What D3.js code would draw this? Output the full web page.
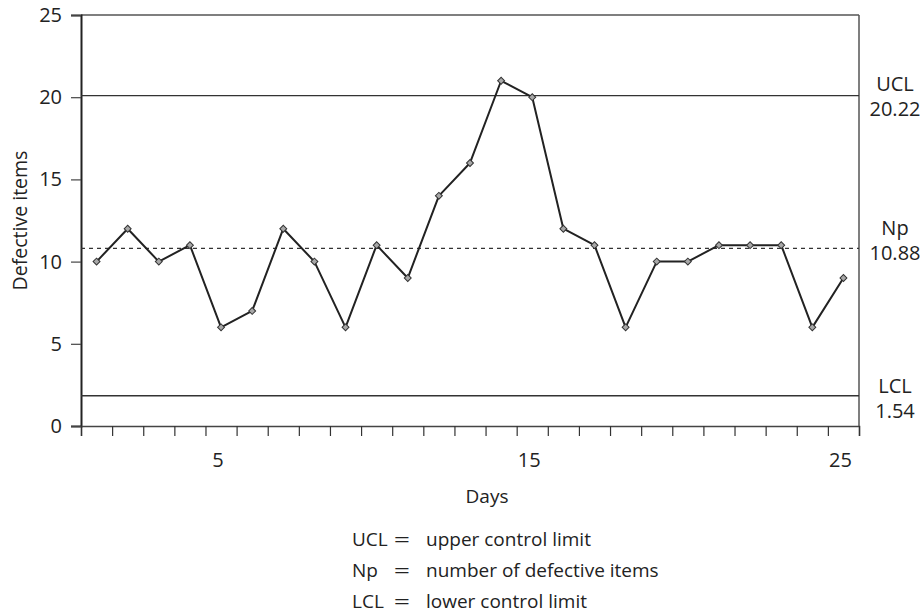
<!DOCTYPE html>
<html>
<head>
<meta charset="utf-8">
<script src="https://cdn.jsdelivr.net/npm/d3@7"></script>
<style>
  html, body { margin: 0; padding: 0; background: #fff; }
  svg { display: block; font-family: "Open Sans", "Noto Sans", sans-serif; }
</style>
</head>
<body>
<svg id="chart" width="924" height="614"></svg>
<script>
// ---- data ----
const days = [1,2,3,4,5,6,7,8,9,10,11,12,13,14,15,16,17,18,19,20,21,22,23,24,25];
const defectives = [10,12,10,11,6,7,12,10,6,11,9,14,16,21,20,12,11,6,10,10,11,11,11,6,9];
const yTicks = [0,5,10,15,20,25];
const xLabels = [5,15,25];
const xTickPositions = d3.range(0.5, 25.51, 1);
const limitNames = ["UCL","Np","LCL"];
const limitTexts = ["20.22","10.88","1.54"];
const limitDrawn = [20.1, 10.8, 1.84];   // where the lines sit in the picture
const legendKeys = ["UCL","Np","LCL"];
const legendDefs = ["upper control limit","number of defective items","lower control limit"];

// ---- layout ----
const svg = d3.select("#chart");
const L = 81, R = 859, T = 15, B = 426;
const x = d3.scaleLinear().domain([0.5, 25.5]).range([L, R]);
const y = d3.scaleLinear().domain([0, 25]).range([B, T]);
const ink = "#222";
const fs = 20;

// frame: top and right borders
svg.append("line").attr("x1", L).attr("x2", R).attr("y1", T).attr("y2", T)
  .attr("stroke", "#555").attr("stroke-width", 1.5);
svg.append("line").attr("x1", R).attr("x2", R).attr("y1", T).attr("y2", B)
  .attr("stroke", "#555").attr("stroke-width", 1.5);

// y axis
const yAxis = d3.axisLeft(y).tickValues(yTicks).tickSize(10).tickPadding(9);
const gy = svg.append("g").attr("transform", `translate(${L},0)`).call(yAxis);
gy.select(".domain").attr("stroke", ink).attr("stroke-width", 2);
gy.selectAll(".tick line").attr("stroke", "#444").attr("stroke-width", 1.2);
gy.selectAll("text").attr("font-size", fs).attr("fill", ink)
  .attr("font-family", "'Open Sans', sans-serif");

// x axis (ticks between days)
const xAxis = d3.axisBottom(x).tickValues(xTickPositions).tickSize(10).tickFormat("");
const gx = svg.append("g").attr("transform", `translate(0,${B})`).call(xAxis);
gx.select(".domain").attr("stroke", "#444").attr("stroke-width", 1.5);
gx.selectAll(".tick line").attr("stroke", "#333").attr("stroke-width", 1.2);

svg.append("g").selectAll("text").data(xLabels).join("text")
  .attr("x", d => x(d) - 3).attr("y", 467)
  .attr("text-anchor", "middle").attr("font-size", fs).attr("fill", ink)
  .text(d => d);

// axis titles
svg.append("text").attr("x", 487).attr("y", 503)
  .attr("text-anchor", "middle").attr("font-size", 19).attr("fill", ink).text("Days");
svg.append("text").attr("transform", `translate(27,${(T + B) / 2}) rotate(-90)`)
  .attr("text-anchor", "middle").attr("font-size", 19.5).attr("fill", ink).text("Defective items");

// control lines
const lineStyles = [
  {dash: null, w: 1.3},
  {dash: "4,4", w: 1.3},
  {dash: null, w: 1.3}
];
limitDrawn.forEach((v, i) => {
  svg.append("line").attr("x1", L).attr("x2", R).attr("y1", y(v)).attr("y2", y(v))
    .attr("stroke", "#333").attr("stroke-width", lineStyles[i].w)
    .attr("stroke-dasharray", lineStyles[i].dash);
});

// right-side labels
const labelDy = [-5, -13, -3];
limitNames.forEach((n, i) => {
  const yy = y(limitDrawn[i]) + labelDy[i];
  svg.append("text").attr("x", 895).attr("y", yy).attr("text-anchor", "middle")
    .attr("font-size", fs).attr("fill", ink).text(n);
  svg.append("text").attr("x", 895).attr("y", yy + 25).attr("text-anchor", "middle")
    .attr("font-size", fs).attr("fill", ink).text(limitTexts[i]);
});

// series line
const pts = days.map((d, i) => [d, defectives[i]]);
svg.append("path").datum(pts)
  .attr("fill", "none").attr("stroke", ink).attr("stroke-width", 2)
  .attr("stroke-linejoin", "round")
  .attr("d", d3.line().x(d => x(d[0])).y(d => y(d[1])));

// diamond markers
svg.append("g").selectAll("path").data(pts).join("path")
  .attr("transform", d => `translate(${x(d[0])},${y(d[1])}) rotate(45)`)
  .attr("d", d3.symbol(d3.symbolSquare, 24)())
  .attr("fill", "#a8a8a8").attr("stroke", "#333").attr("stroke-width", 1);

// legend
legendKeys.forEach((k, i) => {
  const yy = 546 + i * 31;
  svg.append("text").attr("x", 352).attr("y", yy).attr("font-size", 19).attr("fill", ink).text(k);
  svg.append("text").attr("transform", `translate(402,${yy}) scale(1.5,1)`)
    .attr("text-anchor", "middle").attr("font-size", 19).attr("fill", ink).text("=");
  svg.append("text").attr("x", 426).attr("y", yy).attr("font-size", 19).attr("fill", ink).text(legendDefs[i]);
});
</script>
</body>
</html>
